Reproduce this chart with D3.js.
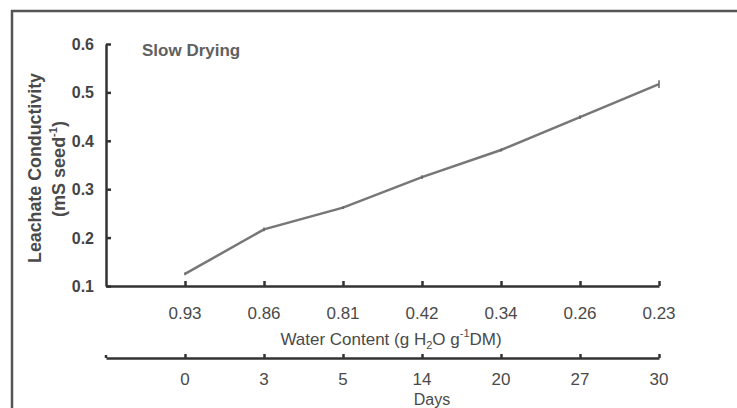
<!DOCTYPE html>
<html>
<head>
<meta charset="utf-8">
<script src="https://cdn.jsdelivr.net/npm/d3@7"></script>
<style>
  body { margin: 0; background: #fff; }
  svg text { font-family: "Liberation Sans", Arial, sans-serif; fill: #4a4a4a; }
  .tick-lab { font-size: 17px; }
  .ytick { font-size: 16px; font-weight: bold; fill: #444; }
  .axis-title { font-size: 17px; }
</style>
</head>
<body>
<svg class="chart" width="737" height="408"></svg>
<script>
// data
var water_content = ['0.93', '0.86', '0.81', '0.42', '0.34', '0.26', '0.23'];
var days = ['0', '3', '5', '14', '20', '27', '30'];
var conductivity = [0.125, 0.217, 0.262, 0.325, 0.381, 0.449, 0.517];
var cond_err = [0.003, 0.004, 0.003, 0.004, 0.003, 0.004, 0.008];
var y_ticks = [0.1, 0.2, 0.3, 0.4, 0.5, 0.6];

var svg = d3.select('.chart');
var margin = {top: 44, left: 106}
  , width = 553   // up to last tick
  , height = 242;

// outer frame of the figure (only left/top show in the scan)
svg.append('rect')
  .attr('x', 12).attr('y', 11)
  .attr('width', 800).attr('height', 480)
  .style('fill', 'none')
  .style('stroke', '#555')
  .style('stroke-width', 2.5);

var g = svg.append('g')
  .attr('transform', 'translate(' + margin.left + ',' + margin.top + ')');

var xScale = d3.scaleLinear()
  .domain([0, water_content.length])
  .range([0, width]);

var yScale = d3.scaleLinear()
  .domain([0.1, 0.6])
  .range([height, 0]);

var axisColor = '#333';

// y axis: ticks point inward
var y_axis = d3.axisRight(yScale)
  .tickValues(y_ticks)
  .tickSize(5)
  .tickSizeOuter(0)
  .tickFormat('');
var yg = g.append('g').attr('class', 'y axis').call(y_axis);

yg.selectAll('.ytick')
  .data(y_ticks)
  .enter().append('text')
  .attr('class', 'ytick')
  .attr('x', -12)
  .attr('y', function(d) { return yScale(d) + 6; })
  .attr('text-anchor', 'end')
  .text(function(d) { return d.toFixed(1); });

// water content axis
var x_axis = d3.axisTop(xScale)
  .tickValues(d3.range(1, water_content.length + 1))
  .tickSize(5)
  .tickSizeOuter(0)
  .tickFormat('');
var xg = g.append('g')
  .attr('class', 'x axis')
  .attr('transform', 'translate(0,' + height + ')')
  .call(x_axis);

xg.selectAll('.tick-lab')
  .data(water_content)
  .enter().append('text')
  .attr('class', 'tick-lab')
  .attr('x', function(d, i) { return xScale(i + 1); })
  .attr('y', 33)
  .attr('text-anchor', 'middle')
  .text(function(d) { return d; });

// days axis, a second axis below
var dg = g.append('g')
  .attr('class', 'x axis')
  .attr('transform', 'translate(0,' + (height + 72) + ')')
  .call(d3.axisTop(xScale)
    .tickValues(d3.range(1, days.length + 1))
    .tickSize(4)
    .tickSizeOuter(0)
    .tickFormat(''));

// the days axis has a little end tick on the left too
dg.append('line')
  .attr('x1', 0).attr('x2', 0)
  .attr('y1', -3).attr('y2', 0);

dg.selectAll('.tick-lab')
  .data(days)
  .enter().append('text')
  .attr('class', 'tick-lab')
  .attr('x', function(d, i) { return xScale(i + 1); })
  .attr('y', 27)
  .attr('text-anchor', 'middle')
  .text(function(d) { return d; });

svg.selectAll('.axis path, .axis line')
  .style('stroke', axisColor)
  .style('stroke-width', 2.5)
  .style('fill', 'none');

// axis titles
var wt = g.append('text')
  .attr('class', 'axis-title')
  .attr('x', 285)
  .attr('y', height + 59)
  .attr('text-anchor', 'middle');
wt.append('tspan').text('Water Content (g H');
wt.append('tspan').attr('dy', 4).style('font-size', '11px').text('2');
wt.append('tspan').attr('dy', -4).text('O g');
wt.append('tspan').attr('dy', -8).style('font-size', '11px').text('-1');
wt.append('tspan').attr('dy', 8).text('DM)');

g.append('text')
  .attr('class', 'axis-title')
  .attr('x', 326)
  .attr('y', height + 119)
  .attr('text-anchor', 'middle')
  .style('font-size', '16px')
  .text('Days');

g.append('text')
  .attr('class', 'axis-title')
  .attr('transform', 'translate(-65,' + (height / 2 + 3) + ') rotate(-90)')
  .attr('text-anchor', 'middle')
  .attr('textLength', 190)
  .attr('lengthAdjust', 'spacingAndGlyphs')
  .style('font-weight', 'bold')
  .style('font-size', '18px')
  .text('Leachate Conductivity');

var ut = g.append('text')
  .attr('class', 'axis-title')
  .attr('transform', 'translate(-41,' + (height / 2 + 4) + ') rotate(-90)')
  .attr('text-anchor', 'middle')
  .style('font-weight', 'bold')
  .style('font-size', '18px');
ut.append('tspan').text('(mS seed');
ut.append('tspan').attr('dy', -8).style('font-size', '11px').text('-1');
ut.append('tspan').attr('dy', 8).text(')');

g.append('text')
  .attr('x', 36)
  .attr('y', 12)
  .style('font-size', '17px')
  .style('font-weight', 'bold')
  .style('fill', '#606060')
  .text('Slow Drying');

// line
var line = d3.line()
  .x(function(d, i) { return xScale(i + 1); })
  .y(function(d) { return yScale(d); });

g.append('path')
  .datum(conductivity)
  .attr('d', line)
  .style('fill', 'none')
  .style('stroke', '#777')
  .style('stroke-width', 2.5);

// small error bars
g.selectAll('.err')
  .data(conductivity)
  .enter().append('line')
  .attr('class', 'err')
  .attr('x1', function(d, i) { return xScale(i + 1); })
  .attr('x2', function(d, i) { return xScale(i + 1); })
  .attr('y1', function(d, i) { return yScale(d + cond_err[i]); })
  .attr('y2', function(d, i) { return yScale(d - cond_err[i]); })
  .style('stroke', '#666')
  .style('stroke-width', 1.5);
</script>
</body>
</html>
